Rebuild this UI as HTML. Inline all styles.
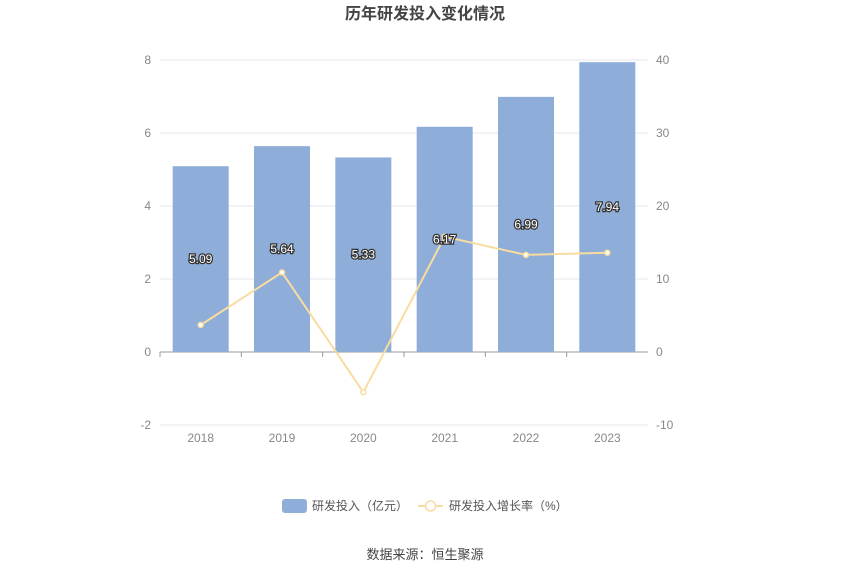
<!DOCTYPE html>
<html><head><meta charset="utf-8"><style>
body{margin:0;background:#fff;font-family:"Liberation Sans","Noto Sans CJK SC",sans-serif}
</style></head><body>
<svg id="c" width="850" height="575" xmlns="http://www.w3.org/2000/svg" font-family="Liberation Sans, Noto Sans CJK SC, sans-serif">
<text x="425" y="19" text-anchor="middle" font-size="16" font-weight="bold" fill="#444">历年研发投入变化情况</text>
<g id="grid"></g><g id="bars"></g><g id="line"></g><g id="labels"></g>
<g>
<rect x="282" y="499" width="25" height="14" rx="3" fill="#8eadd9"/>
<text x="312" y="510" font-size="12" fill="#555">研发投入（亿元）</text>
<line x1="418" y1="506" x2="443" y2="506" stroke="#f8dca0" stroke-width="2"/>
<circle cx="430.5" cy="506" r="5" fill="#fff" stroke="#f8dca0" stroke-width="1.5"/>
<text x="449" y="510" font-size="12" fill="#555">研发投入增长率（%）</text>
</g>
<text x="425" y="559" text-anchor="middle" font-size="13" fill="#444">数据来源：恒生聚源</text>
</svg>
<script>
const categories=["2018","2019","2020","2021","2022","2023"];
const rdValues=[5.09,5.64,5.33,6.17,6.99,7.94];
const growthValues=[3.7,10.9,-5.5,15.8,13.3,13.6];
const leftTicks=[-2,0,2,4,6,8];
const rightTicks=[-10,0,10,20,30,40];
const NS="http://www.w3.org/2000/svg";
const X0=160,X1=648,band=(X1-X0)/categories.length;
const yL=v=>352-v*36.5, yR=v=>352-v*7.3, xc=i=>X0+band*(i+0.5);
function mk(tag,attrs,parent,text){const e=document.createElementNS(NS,tag);for(const k in attrs)e.setAttribute(k,attrs[k]);if(text!=null)e.textContent=text;document.getElementById(parent).appendChild(e);return e;}
leftTicks.forEach((t,i)=>{
 const g=mk("line",{x1:X0,x2:X1,y1:yL(t),y2:yL(t),stroke:t===0?"#999":"#e3e7ee","stroke-width":1},"grid");
 
 
 const a=mk("text",{x:151,y:yL(t)+4,"text-anchor":"end","font-size":12,fill:"#888"},"grid",t);
 
 
 const b=mk("text",{x:656,y:yR(rightTicks[i])+4,"font-size":12,fill:"#888"},"grid",rightTicks[i]);
 
 
});
categories.forEach((c,i)=>{
 const tk=mk("line",{x1:X0+band*i,x2:X0+band*i,y1:352,y2:357,stroke:"#999"},"grid");
 
 
 const t=mk("text",{x:xc(i),y:442,"text-anchor":"middle","font-size":12,fill:"#888"},"grid",c);
 
 
 const v=rdValues[i];
 const r=mk("rect",{x:xc(i)-28,y:yL(v),width:56,height:yL(0)-yL(v),fill:"#8eadd9"},"bars");
 
 
 const l=mk("text",{x:xc(i),y:yL(v/2)+4,"text-anchor":"middle","font-size":12,fill:"#fff",stroke:"#333","stroke-width":2.5,"paint-order":"stroke"},"labels",v.toFixed(2));
 
 
});
const pl=mk("polyline",{points:growthValues.map((v,i)=>xc(i)+","+yR(v)).join(" "),fill:"none",stroke:"#f8dca0","stroke-width":2},"line");


growthValues.forEach((v,i)=>{
 const p=mk("circle",{cx:xc(i),cy:yR(v),r:2.5,fill:"#fff",stroke:"#f8dca0","stroke-width":1.5},"line");
 
 
});
</script>
</body></html>
